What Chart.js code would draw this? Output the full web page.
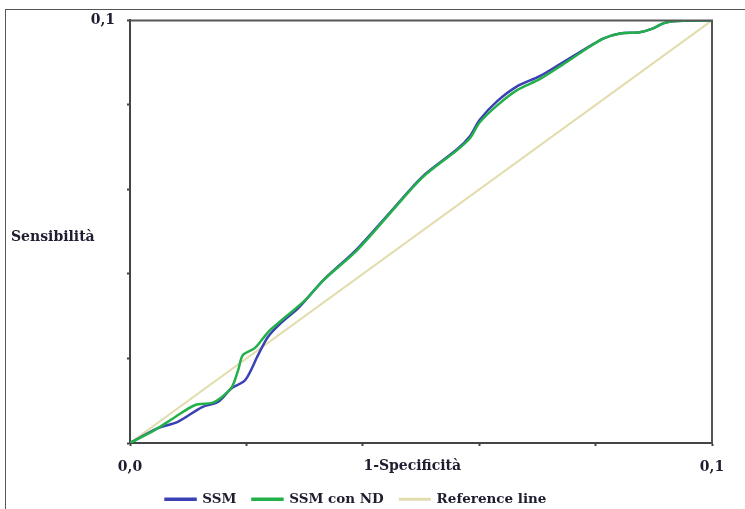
<!DOCTYPE html>
<html>
<head>
<meta charset="utf-8">
<script src="https://cdn.jsdelivr.net/npm/chart.js@4.4.1/dist/chart.umd.min.js"></script>
<style>
  html, body { margin: 0; padding: 0; background: #fff; }
  #wrap { position: relative; width: 745px; height: 509px; overflow: hidden; }
  #frame { position: absolute; left: 5px; top: 9px; width: 800px; height: 600px; border: 1px solid #555; box-sizing: border-box; }
  canvas { position: absolute; left: 0; top: 0; }
</style>
</head>
<body>
<div id="wrap">
  <div id="frame"></div>
  <canvas id="c" width="745" height="516"></canvas>
</div>
<script>
// ---- data ----
const seriesNames = ['SSM', 'SSM con ND', 'Reference line'];
const xTitle = '1-Specificità';
const yTitle = 'Sensibilità';
const tickLabelsX = { 0: '0,0', 1: '0,1' };
const tickLabelsY = { 1: '0,1' };

const ssmFpr = [0, 0.048, 0.082, 0.124, 0.151, 0.175, 0.198, 0.220, 0.237, 0.261, 0.289, 0.332, 0.390, 0.447, 0.503, 0.562, 0.584, 0.601, 0.631, 0.665, 0.704, 0.744, 0.778, 0.813, 0.842, 0.876, 0.899, 0.916, 0.933, 1.0];
const ssmTpr = [0, 0.035, 0.050, 0.085, 0.097, 0.130, 0.149, 0.208, 0.251, 0.286, 0.319, 0.385, 0.459, 0.546, 0.631, 0.695, 0.726, 0.765, 0.809, 0.844, 0.868, 0.901, 0.929, 0.957, 0.969, 0.972, 0.981, 0.993, 0.998, 1.0];

const ndFpr = [0, 0.043, 0.077, 0.112, 0.141, 0.158, 0.175, 0.186, 0.194, 0.215, 0.237, 0.261, 0.301, 0.332, 0.390, 0.447, 0.503, 0.562, 0.584, 0.601, 0.631, 0.665, 0.704, 0.744, 0.778, 0.813, 0.842, 0.876, 0.899, 0.916, 0.933, 1.0];
const ndTpr = [0, 0.031, 0.061, 0.090, 0.095, 0.109, 0.132, 0.173, 0.208, 0.225, 0.262, 0.291, 0.338, 0.385, 0.456, 0.544, 0.629, 0.693, 0.721, 0.759, 0.799, 0.835, 0.861, 0.896, 0.927, 0.957, 0.969, 0.972, 0.981, 0.993, 0.998, 1.0];

const refX = [0, 1];
const refY = [0, 1];

const toPts = (xs, ys) => xs.map((x, i) => ({ x: x, y: ys[i] }));

const FONT = 'DejaVu Serif';
const TXT = '#1e1e30';

const extras = {
  id: 'extras',
  afterDraw(chart) {
    const { ctx, chartArea: a, scales } = chart;
    ctx.save();
    // top and right frame lines of the plot box
    ctx.strokeStyle = '#555';
    ctx.lineWidth = 2;
    ctx.beginPath();
    ctx.moveTo(a.left, a.top);
    ctx.lineTo(a.right, a.top);
    ctx.lineTo(a.right, a.bottom);
    ctx.stroke();
    // titles
    ctx.fillStyle = TXT;
    ctx.font = 'bold 14px "' + FONT + '"';
    ctx.textBaseline = 'middle';
    ctx.textAlign = 'left';
    ctx.fillText(yTitle, 11, (a.top + a.bottom) / 2 + 6);
    ctx.textAlign = 'center';
    ctx.fillText(xTitle, scales.x.getPixelForValue(0.485), a.bottom + 23);
    ctx.restore();
  }
};

new Chart(document.getElementById('c'), {
  type: 'scatter',
  data: {
    datasets: [
      { label: seriesNames[0], data: toPts(ssmFpr, ssmTpr), showLine: true, borderColor: '#3b40b4', backgroundColor: '#3b40b4', borderWidth: 2.5, pointRadius: 0, tension: 0.3, order: 1 },
      { label: seriesNames[1], data: toPts(ndFpr, ndTpr), showLine: true, borderColor: '#23b04a', backgroundColor: '#23b04a', borderWidth: 2.5, pointRadius: 0, tension: 0.3, order: 0 },
      { label: seriesNames[2], data: toPts(refX, refY), showLine: true, borderColor: '#e2dcae', backgroundColor: '#e2dcae', borderWidth: 2, pointRadius: 0, order: 2 }
    ]
  },
  options: {
    responsive: false,
    animation: false,
    layout: { padding: { left: 0, right: 33, top: 20, bottom: 0 } },
    plugins: {
      tooltip: { enabled: false },
      legend: {
        position: 'bottom',
        labels: {
          sort: (a, b) => a.datasetIndex - b.datasetIndex,
          boxWidth: 30,
          boxHeight: 1,
          padding: 16,
          color: TXT,
          font: { family: FONT, size: 13.5, weight: 'bold' }
        }
      }
    },
    scales: {
      x: {
        type: 'linear', min: 0, max: 1,
        afterFit: s => { s.height = 33.5; },
        border: { display: true, color: '#444', width: 2 },
        grid: { display: true, drawOnChartArea: false, drawTicks: true, tickLength: 3, tickColor: '#444', tickWidth: 2 },
        ticks: { stepSize: 0.2, padding: 13, color: TXT, font: { family: FONT, size: 14, weight: 'bold' }, maxRotation: 0, autoSkip: false,
          callback: v => (tickLabelsX[v] !== undefined ? tickLabelsX[v] : '') }
      },
      y: {
        type: 'linear', min: 0, max: 1,
        afterFit: s => { s.width = 130; },
        border: { display: true, color: '#444', width: 2 },
        grid: { display: true, drawOnChartArea: false, drawTicks: true, tickLength: 3, tickColor: '#444', tickWidth: 2 },
        ticks: { stepSize: 0.2, padding: 12, color: TXT, font: { family: FONT, size: 14, weight: 'bold' }, autoSkip: false,
          callback: v => (tickLabelsY[v] !== undefined ? tickLabelsY[v] : '') }
      }
    }
  },
  plugins: [extras]
});
</script>
</body>
</html>
